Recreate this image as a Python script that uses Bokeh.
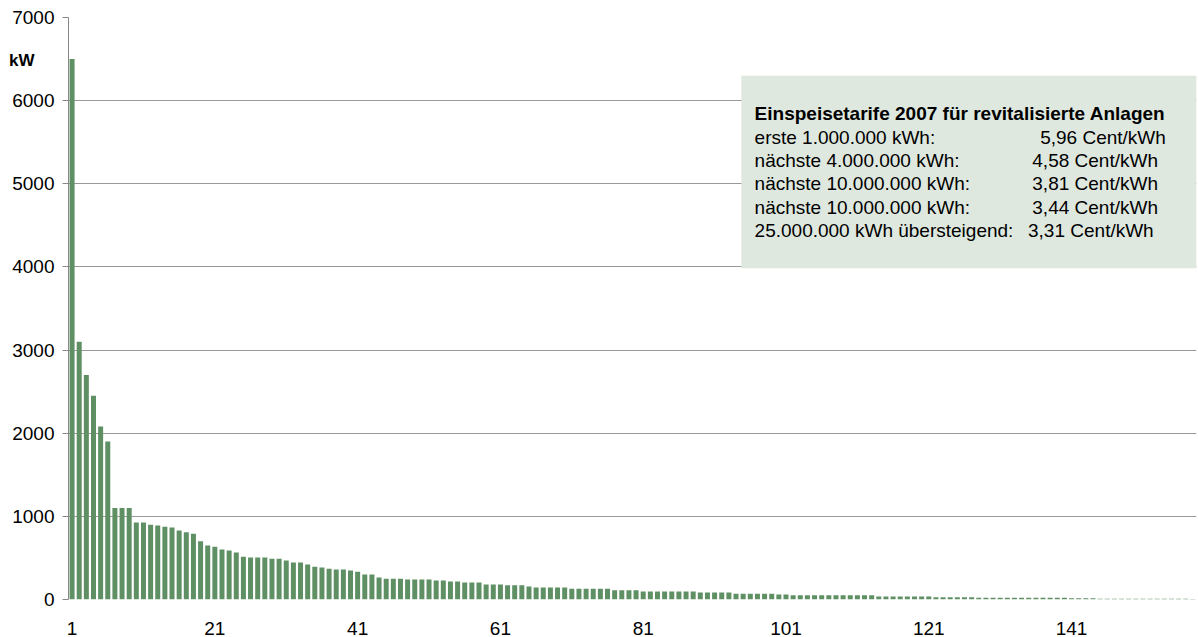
from bokeh.plotting import figure
from bokeh.models import Range1d, FixedTicker, Label, BoxAnnotation, LinearAxis
from bokeh.embed import file_html
from bokeh.resources import INLINE

# ---- data ----
plant_values = [
    6500, 3100, 2700, 2450, 2080, 1900, 1100, 1100, 1100, 925,
    925, 900, 890, 875, 865, 830, 810, 790, 700, 650,
    635, 600, 590, 565, 515, 505, 505, 505, 490, 490,
    470, 445, 445, 420, 395, 385, 370, 360, 360, 350,
    335, 300, 300, 265, 250, 250, 250, 240, 240, 240,
    240, 230, 230, 215, 215, 205, 205, 205, 180, 180,
    180, 170, 170, 170, 155, 145, 145, 145, 145, 145,
    130, 130, 130, 130, 130, 130, 110, 110, 110, 110,
    95, 95, 95, 95, 95, 95, 95, 95, 85, 85,
    85, 85, 85, 70, 70, 70, 70, 70, 70, 60,
    60, 50, 50, 50, 50, 50, 50, 50, 50, 50,
    50, 50, 50, 36, 36, 36, 36, 36, 36, 36,
    36, 28, 28, 28, 28, 28, 28, 22, 22, 22,
    22, 22, 22, 22, 22, 22, 22, 22, 22, 22,
    14, 14, 14, 14, 9, 9, 9, 9, 9, 9,
    9, 9, 9, 9, 9, 9, 9, 5,
]
plant_numbers = list(range(1, len(plant_values) + 1))
x_tick_values = [1, 21, 41, 61, 81, 101, 121, 141]
y_tick_values = [0, 1000, 2000, 3000, 4000, 5000, 6000, 7000]
grid_values = [1000, 2000, 3000, 4000, 5000, 6000]
unit_label = "kW"
unit_label_level = 6480
box_title = "Einspeisetarife 2007 für revitalisierte Anlagen"
tariff_labels = [
    "erste 1.000.000 kWh:",
    "nächste 4.000.000 kWh:",
    "nächste 10.000.000 kWh:",
    "nächste 10.000.000 kWh:",
    "25.000.000 kWh übersteigend:",
]
tariff_values = [
    "5,96 Cent/kWh",
    "4,58 Cent/kWh",
    "3,81 Cent/kWh",
    "3,44 Cent/kWh",
    "3,31 Cent/kWh",
]

FONT = "Liberation Sans"
BAR = "#5f9064"
FS = "19px"

p = figure(width=1198, height=637, output_backend="svg", toolbar_location=None,
           x_range=Range1d(0.5, len(plant_values) + 0.5), y_range=Range1d(0, 7000),
           min_border_left=68, min_border_right=2, min_border_top=17, min_border_bottom=37)
p.outline_line_color = None
p.background_fill_color = "white"

p.vbar(x=plant_numbers, top=plant_values, width=0.7, color=BAR, line_color=None)

# axes
p.xaxis.ticker = FixedTicker(ticks=x_tick_values)
p.xaxis.axis_line_color = None
p.xaxis.major_tick_line_color = None
p.xaxis.minor_tick_line_color = None
p.xaxis.major_label_standoff = 16
p.xaxis.major_label_text_font = FONT
p.xaxis.major_label_text_font_size = FS
p.xaxis.major_label_text_color = "black"

p.yaxis.ticker = FixedTicker(ticks=y_tick_values)
p.yaxis.axis_line_color = "#888888"
p.yaxis.major_tick_line_color = "#888888"
p.yaxis.major_tick_out = 6
p.yaxis.major_tick_in = 0
p.yaxis.minor_tick_line_color = None
p.yaxis.major_label_standoff = 8
p.yaxis.major_label_text_font = FONT
p.yaxis.major_label_text_font_size = FS
p.yaxis.major_label_text_color = "black"

# unit label "kW" as a tick label of a second, line-less left axis
unit_axis = LinearAxis(ticker=FixedTicker(ticks=[unit_label_level]),
                       major_label_overrides={unit_label_level: unit_label},
                       axis_line_color=None, major_tick_line_color=None,
                       minor_tick_line_color=None, major_tick_out=0, major_tick_in=0,
                       major_label_standoff=-25, major_label_text_font=FONT,
                       major_label_text_font_size="17px", major_label_text_font_style="bold",
                       major_label_text_color="black")
p.add_layout(unit_axis, "left")

p.xgrid.grid_line_color = None
p.ygrid.ticker = FixedTicker(ticks=grid_values)
p.ygrid.grid_line_color = "#999999"
p.ygrid.grid_line_width = 1

# info box
p.add_layout(BoxAnnotation(left=94.75, bottom=3984, top=6300, fill_color="#dfe8df",
                           fill_alpha=1.0, line_color=None, level="glyph"))
p.add_layout(Label(x=96.6, y=5848, text=box_title, text_font=FONT, text_font_size=FS,
                   text_font_style="bold", text_baseline="middle", text_color="black",
                   level="overlay"))
line_y = [5560, 5280, 5000, 4720, 4440]
value_x = [136.6, 135.5, 135.5, 135.5, 134.9]
for lab, val, yy, vx in zip(tariff_labels, tariff_values, line_y, value_x):
    p.add_layout(Label(x=96.6, y=yy, text=lab, text_font=FONT, text_font_size=FS,
                       text_baseline="middle", text_color="black", level="overlay"))
    p.add_layout(Label(x=vx, y=yy, text=val, text_font=FONT, text_font_size=FS,
                       text_baseline="middle", text_color="black", level="overlay"))

open("out.html", "w").write(file_html(p, INLINE))
